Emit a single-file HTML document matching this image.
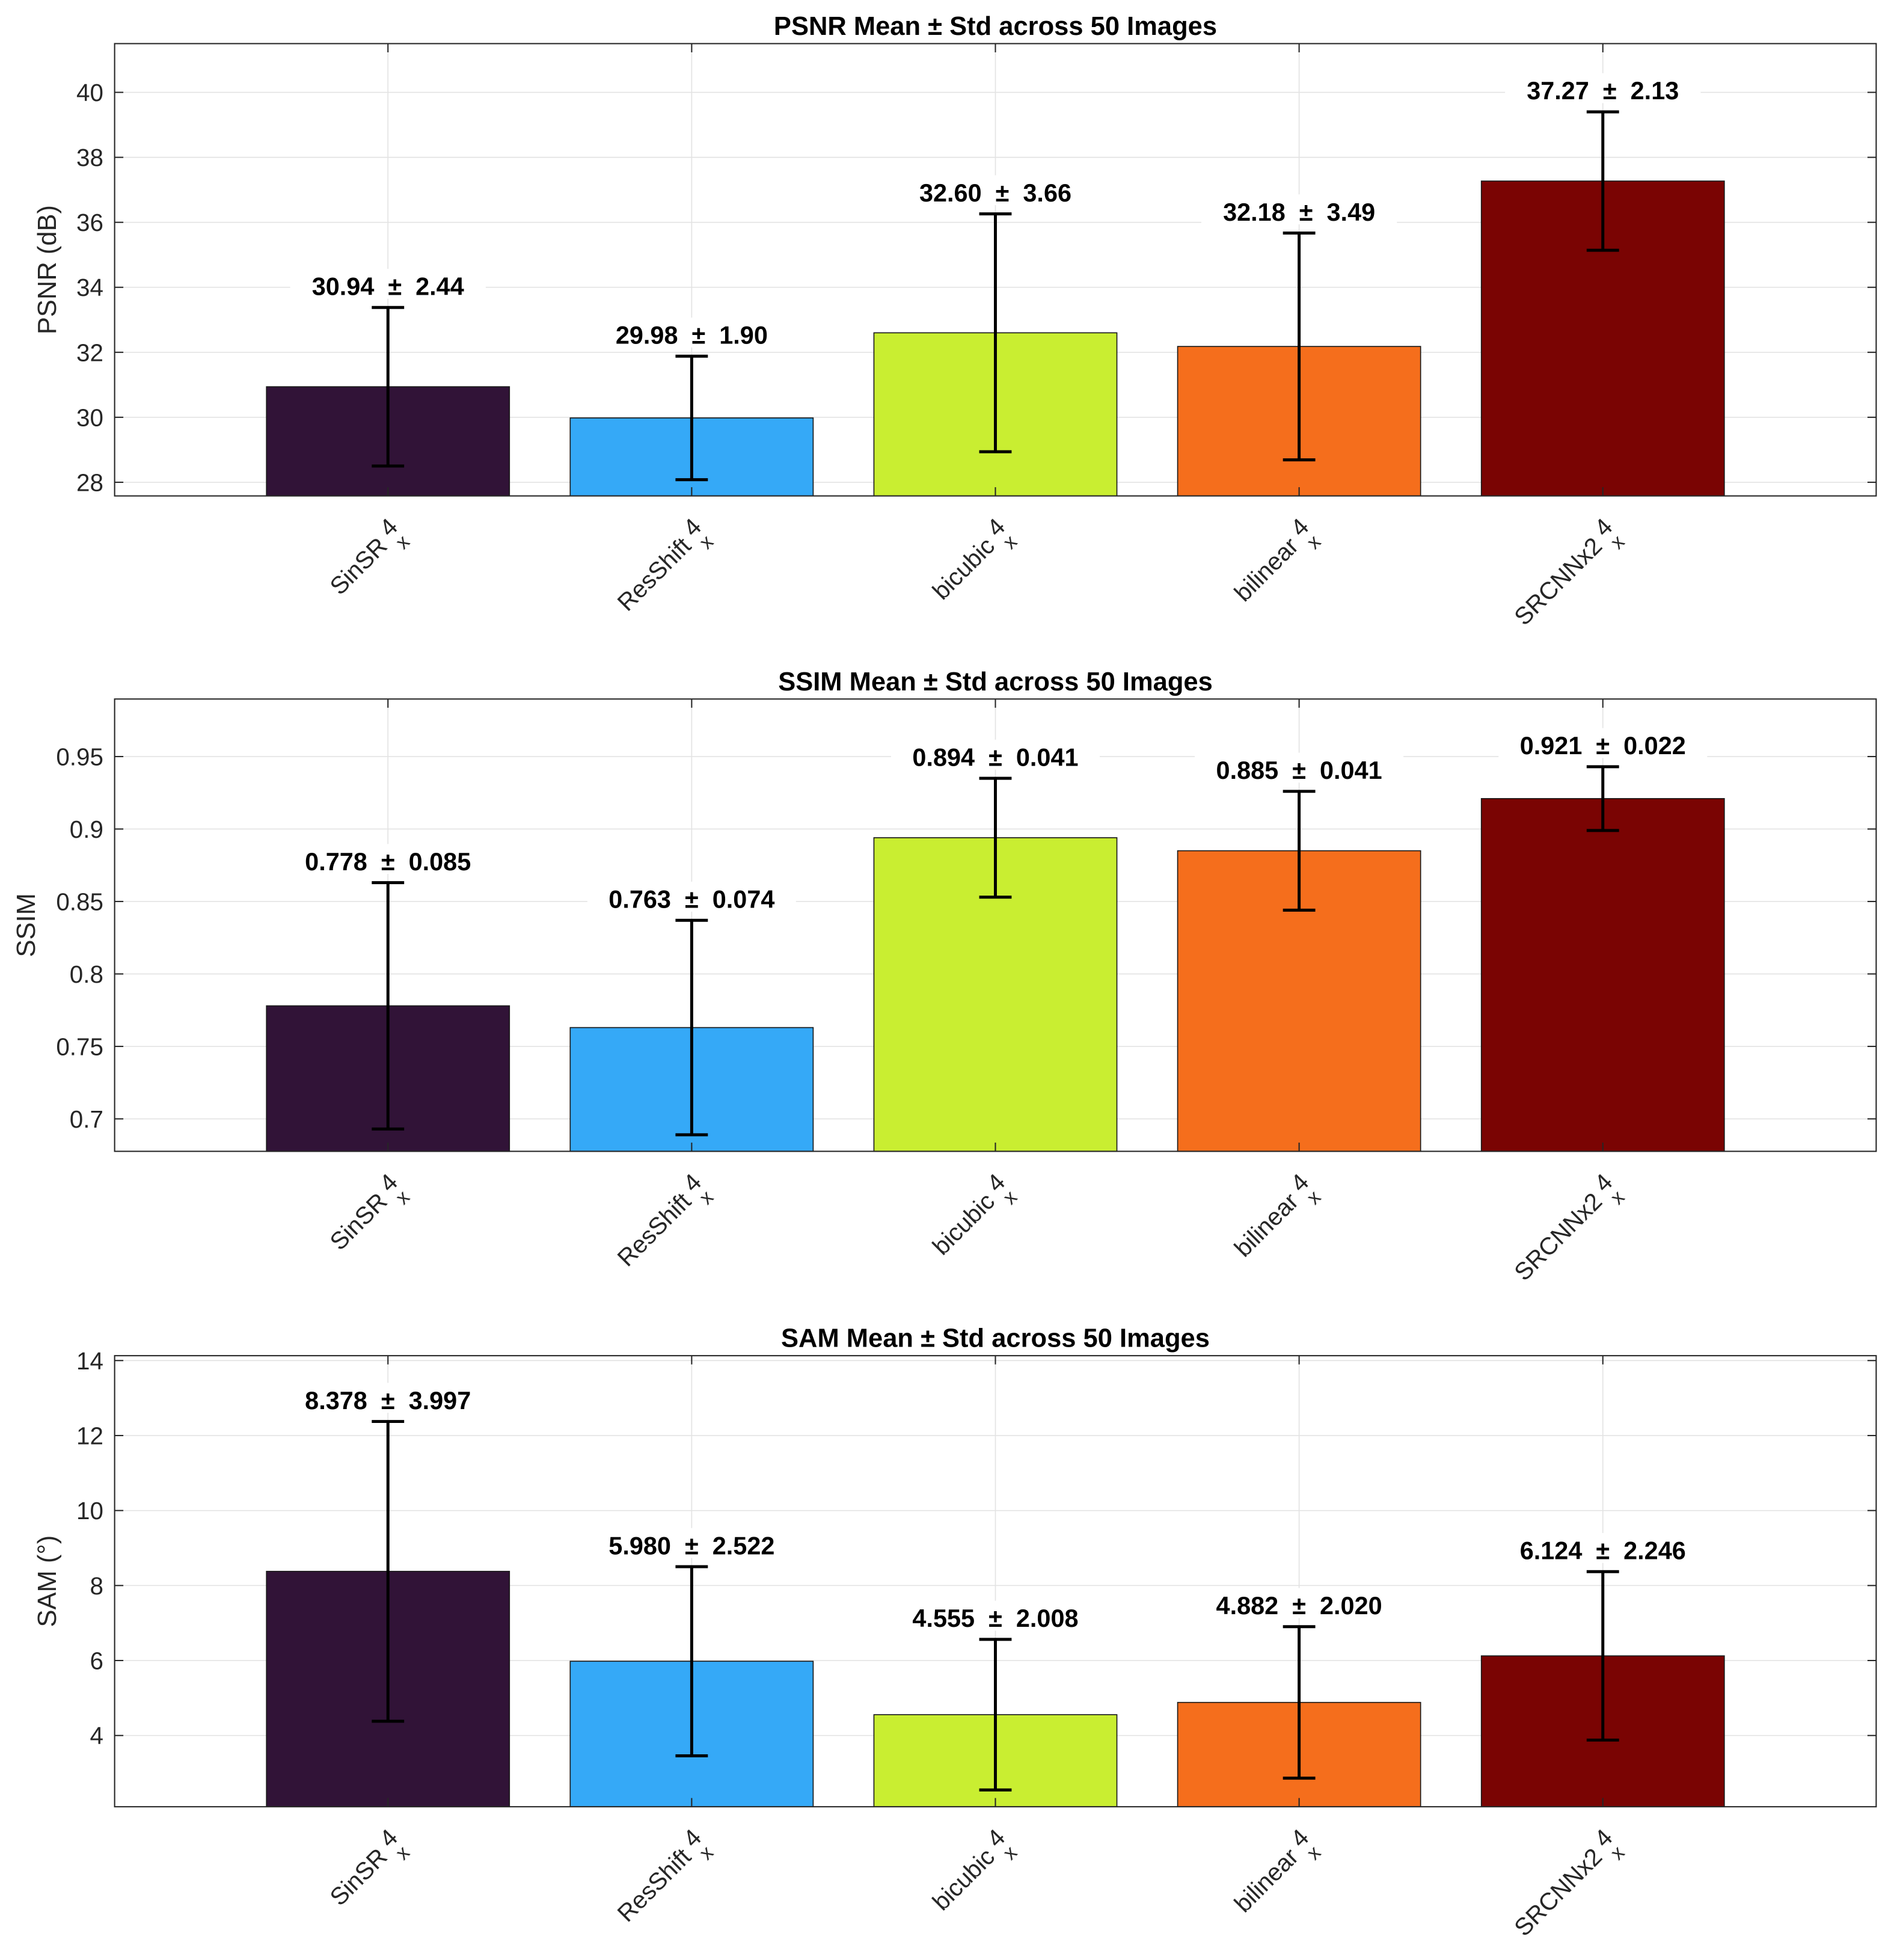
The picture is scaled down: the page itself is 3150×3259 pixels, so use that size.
<!DOCTYPE html>
<html><head><meta charset="utf-8"><style>
html,body{margin:0;padding:0;background:#fff;}
svg{display:block;font-family:"Liberation Sans",Arial,sans-serif;}
</style></head><body>
<svg id="fig" width="3150" height="3259" viewBox="0 0 1520.3 1573" preserveAspectRatio="none" xmlns="http://www.w3.org/2000/svg"></svg>
<script>
const categories = ["SinSR", "ResShift", "bicubic", "bilinear", "SRCNNx2"];
const barColors = ["#311337", "#35a9f7", "#c9ee31", "#f56e1c", "#7a0403"];
const psnrMean = [30.94, 29.98, 32.60, 32.18, 37.27];
const psnrStd = [2.44, 1.90, 3.66, 3.49, 2.13];
const ssimMean = [0.778, 0.763, 0.894, 0.885, 0.921];
const ssimStd = [0.085, 0.074, 0.041, 0.041, 0.022];
const samMean = [8.378, 5.980, 4.555, 4.882, 6.124];
const samStd = [3.997, 2.522, 2.008, 2.020, 2.246];
const psnrTicks = [28, 30, 32, 34, 36, 38, 40];
const ssimTicks = [0.7, 0.75, 0.8, 0.85, 0.9, 0.95];
const samTicks = [4, 6, 8, 10, 12, 14];

const NS = "http://www.w3.org/2000/svg";
const svg = document.getElementById("fig");
function mk(tag, attrs, parent) {
  const e = document.createElementNS(NS, tag);
  for (const k in attrs) e.setAttribute(k, attrs[k]);
  (parent || svg).appendChild(e);
  return e;
}
const panels = [
  {key:"psnr", title:"PSNR Mean \u00B1 Std across 50 Images", ylabel:"PSNR (dB)", ylabelX:45, top:35, bottom:398, ymin:27.58, ymax:41.5, ticks:psnrTicks, mean:psnrMean, std:psnrStd, dec:2, tfmt:v=>String(v)},
  {key:"ssim", title:"SSIM Mean \u00B1 Std across 50 Images", ylabel:"SSIM", ylabelX:28, top:561, bottom:924, ymin:0.6776, ymax:0.9897, ticks:ssimTicks, mean:ssimMean, std:ssimStd, dec:3, tfmt:v=>String(+v.toFixed(2))},
  {key:"sam", title:"SAM Mean \u00B1 Std across 50 Images", ylabel:"SAM (\u00B0)", ylabelX:45, top:1088, bottom:1450, ymin:2.1, ymax:14.13, ticks:samTicks, mean:samMean, std:samStd, dec:3, tfmt:v=>String(v)}
];
const L = 92, R = 1506, xmin = 0.1, xmax = 5.9;
const xs = i => L + (i + 1 - xmin) / (xmax - xmin) * (R - L);
const bw = 0.8 / (xmax - xmin) * (R - L);

panels.forEach(p => {
  const g = mk("g", {});
  
  
  const ys = v => p.bottom - (v - p.ymin) / (p.ymax - p.ymin) * (p.bottom - p.top);
  mk("rect", {x:L, y:p.top, width:R-L, height:p.bottom-p.top, fill:"#fff"}, g);
  p.ticks.forEach(t => {
    const gl = mk("line", {x1:L, x2:R, y1:ys(t), y2:ys(t), stroke:"#e3e3e3", "stroke-width":0.8}, g);
    
    
  });
  categories.forEach((c, i) => {
    const gl = mk("line", {x1:xs(i), x2:xs(i), y1:p.top, y2:p.bottom, stroke:"#e3e3e3", "stroke-width":0.8}, g);
    
    
  });
  categories.forEach((c, i) => {
    const yt = ys(p.mean[i]);
    const b = mk("rect", {x:xs(i)-bw/2, y:yt, width:bw, height:p.bottom-yt, fill:barColors[i], stroke:"#1a1a1a", "stroke-width":0.8}, g);
    
    
  });
  const box = mk("rect", {x:L, y:p.top, width:R-L, height:p.bottom-p.top, fill:"none", stroke:"#262626", "stroke-width":1}, g);
  
  
  p.ticks.forEach(t => {
    const y = ys(t);
    mk("line", {x1:L, x2:L+7, y1:y, y2:y, stroke:"#262626", "stroke-width":1}, g);
    mk("line", {x1:R-7, x2:R, y1:y, y2:y, stroke:"#262626", "stroke-width":1}, g);
    const tl = mk("text", {x:L-9, y:y+7, "text-anchor":"end", "font-size":19.5, fill:"#262626"}, g);
    tl.textContent = p.tfmt(t);
    
    
  });
  categories.forEach((c, i) => {
    const x = xs(i);
    mk("line", {x1:x, x2:x, y1:p.top, y2:p.top+7, stroke:"#262626", "stroke-width":1}, g);
    mk("line", {x1:x, x2:x, y1:p.bottom-7, y2:p.bottom, stroke:"#262626", "stroke-width":1}, g);
    const lg = mk("g", {transform:"translate(" + (x+14) + "," + (p.bottom+28) + ") rotate(-45)"}, g);
    
    
    const t1 = mk("text", {x:-19, y:0, "text-anchor":"end", "font-size":19.5, fill:"#262626"}, lg);
    t1.textContent = c;
    const t2 = mk("text", {x:-13, y:-5, "font-size":19.5, fill:"#262626"}, lg);
    t2.textContent = "4";
    const t3 = mk("text", {x:-12, y:10, "font-size":16, fill:"#262626"}, lg);
    t3.textContent = "x";
  });
  categories.forEach((c, i) => {
    const x = xs(i), yh = ys(p.mean[i] + p.std[i]), yl = ys(p.mean[i] - p.std[i]);
    const eb = mk("g", {stroke:"#000", "stroke-width":2.4}, g);
    
    
    mk("line", {x1:x, x2:x, y1:yh, y2:yl}, eb);
    mk("line", {x1:x-13, x2:x+13, y1:yh, y2:yh}, eb);
    mk("line", {x1:x-13, x2:x+13, y1:yl, y2:yl}, eb);
    const txt = p.mean[i].toFixed(p.dec) + "  \u00B1  " + p.std[i].toFixed(p.dec);
    const tw = txt.length * 10.5 + 10;
    mk("rect", {x:x-tw/2, y:yh-31, width:tw, height:24, fill:"#fff"}, g);
    const vl = mk("text", {x:x, y:yh-10, "text-anchor":"middle", "font-size":20, "font-weight":"bold", fill:"#000", "xml:space":"preserve", style:"white-space:pre"}, g);
    vl.textContent = txt;
    
    
  });
  const tt = mk("text", {x:(L+R)/2, y:p.top-7, "text-anchor":"middle", "font-size":21, "font-weight":"bold", fill:"#000"}, g);
  tt.textContent = p.title;
  
  
  const cy = (p.top + p.bottom) / 2;
  const yl = mk("text", {x:p.ylabelX, y:cy, "text-anchor":"middle", "font-size":21, fill:"#262626", transform:"rotate(-90 " + p.ylabelX + " " + cy + ")"}, g);
  yl.textContent = p.ylabel;
  
  
});
</script>
</body></html>
